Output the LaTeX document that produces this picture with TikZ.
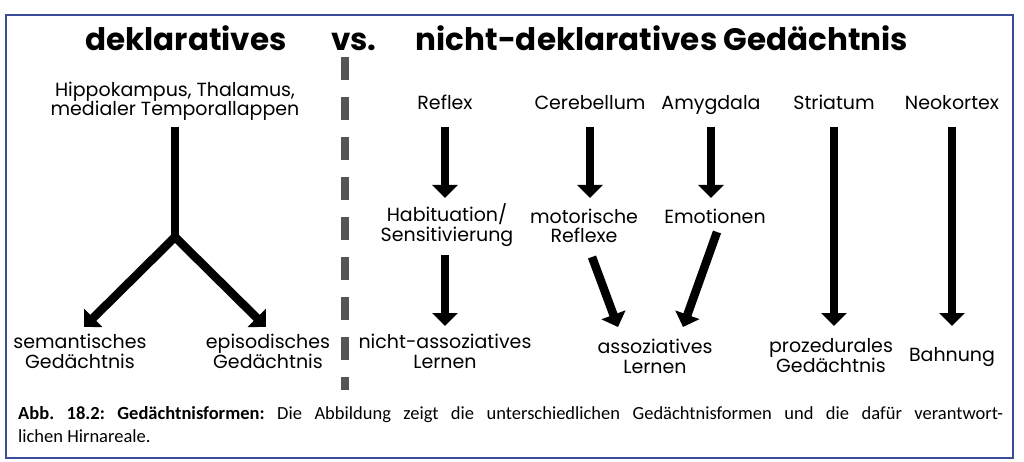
\documentclass[tikz,border=0pt]{standalone}
\usepackage{fontspec}
\setmainfont{Poppins}
\newfontfamily\capfont{Carlito}
\usepackage{tikz}
\usetikzlibrary{arrows.meta}
\usepackage{xcolor}
\definecolor{frameblue}{HTML}{3B4C9B}
\definecolor{sepgray}{HTML}{555555}
\frenchspacing

\begin{document}
\begin{tikzpicture}[
  x=1pt, y=-1pt,
  every node/.style={align=center, inner sep=0pt, anchor=base},
  lbl/.style     ={font=\fontsize{19}{19.5}\selectfont},
  head/.style    ={font=\fontsize{31}{34}\selectfont\bfseries},
  arr/.style     ={-{Triangle[width=25pt, length=13pt]}, line width=8.5pt},
  stem/.style    ={line width=8.5pt},
  sep/.style     ={line width=8pt, sepgray, dash pattern=on 23pt off 17pt},
]

% Frame
\useasboundingbox (0,0) rectangle (1024,462);
\fill[white] (0,0) rectangle (1024,462);
\draw[frameblue, line width=1.5pt] (6,15) rectangle (1013,458);

% Headings
\node[head] (dek)  at (186,51) {deklaratives};
\node[head] (vs)   at (354,51) {vs.};
\node[head] (ndek) at (662,51) {nicht-deklaratives Gedächtnis};

% Separator
\coordinate (sepTop) at (345,57);
\coordinate (sepBot) at (345,390);
\draw[sep] (sepTop) -- (sepBot);

% Declarative side (base = last line)
\node[lbl] (hippo) at (175,116) {Hippokampus, Thalamus,\\medialer Temporallappen};
\coordinate (fork) at (175,237);
\node[lbl] (sem) at (80,368)  {semantisches\\Gedächtnis};
\node[lbl] (epi) at (268,368) {episodisches\\Gedächtnis};

% Non-declarative side: brain areas
\node[lbl] (reflex) at (445,110) {Reflex};
\node[lbl] (cereb)  at (590,110) {Cerebellum};
\node[lbl] (amyg)   at (711,110) {Amygdala};
\node[lbl] (striat) at (834,110) {Striatum};
\node[lbl] (neo)    at (952,110) {Neokortex};

% Intermediate
\node[lbl] (habit) at (447,241) {Habituation/\\Sensitivierung};
\node[lbl] (motor) at (584,243) {motorische\\Reflexe};
\node[lbl] (emot)  at (715,223) {Emotionen};

% Forms
\node[lbl] (nonassoc) at (445,368) {nicht-assoziatives\\Lernen};
\node[lbl] (assoc)    at (655,373) {assoziatives\\Lernen};
\node[lbl] (prozed)   at (831,372) {prozedurales\\Gedächtnis};
\node[lbl] (bahn)     at (952,361) {Bahnung};

% Wires - declarative
\draw[stem, shorten <=11pt] (hippo.base) -- (fork);
\draw[arr] (fork) -- ([xshift=4pt, yshift=41pt]sem.base);
\draw[arr] (fork) -- ([xshift=-2pt, yshift=41pt]epi.base);

% Wires - non-declarative
\draw[arr, shorten <=17pt, shorten >=43pt] (reflex.base) -- (reflex.base |- habit.base);
\draw[arr, shorten <=14pt, shorten >=42pt] (reflex.base |- habit.base) -- (nonassoc.base);
\draw[arr, shorten <=17pt, shorten >=45pt] (cereb.base) -- (cereb.base |- motor.base);
\draw[arr, shorten <=17pt, shorten >=25pt] (amyg.base) -- (amyg.base |- emot.base);
\draw[arr] ([xshift=8pt, yshift=-14pt]motor.base) -- ([xshift=-37pt, yshift=46pt]assoc.base);
\draw[arr] ([xshift=2pt, yshift=-9pt]emot.base) -- ([xshift=28pt, yshift=46pt]assoc.base);
\draw[arr, shorten <=17pt, shorten >=46pt] (striat.base) -- (striat.base |- prozed.base);
\draw[arr, shorten <=17pt, shorten >=35pt] (neo.base) -- (bahn.base);

% Caption
\node[anchor=base west, text width=985pt, align=justify,
      font=\capfont\fontsize{18.5}{23}\selectfont] (cap) at (18,419)
  {\textbf{Abb. 18.2: Gedächtnisformen:} Die Abbildung zeigt die unterschiedlichen Gedächtnisformen und die dafür verantwort-\linebreak
   lichen Hirnareale.};

\end{tikzpicture}
\end{document}
